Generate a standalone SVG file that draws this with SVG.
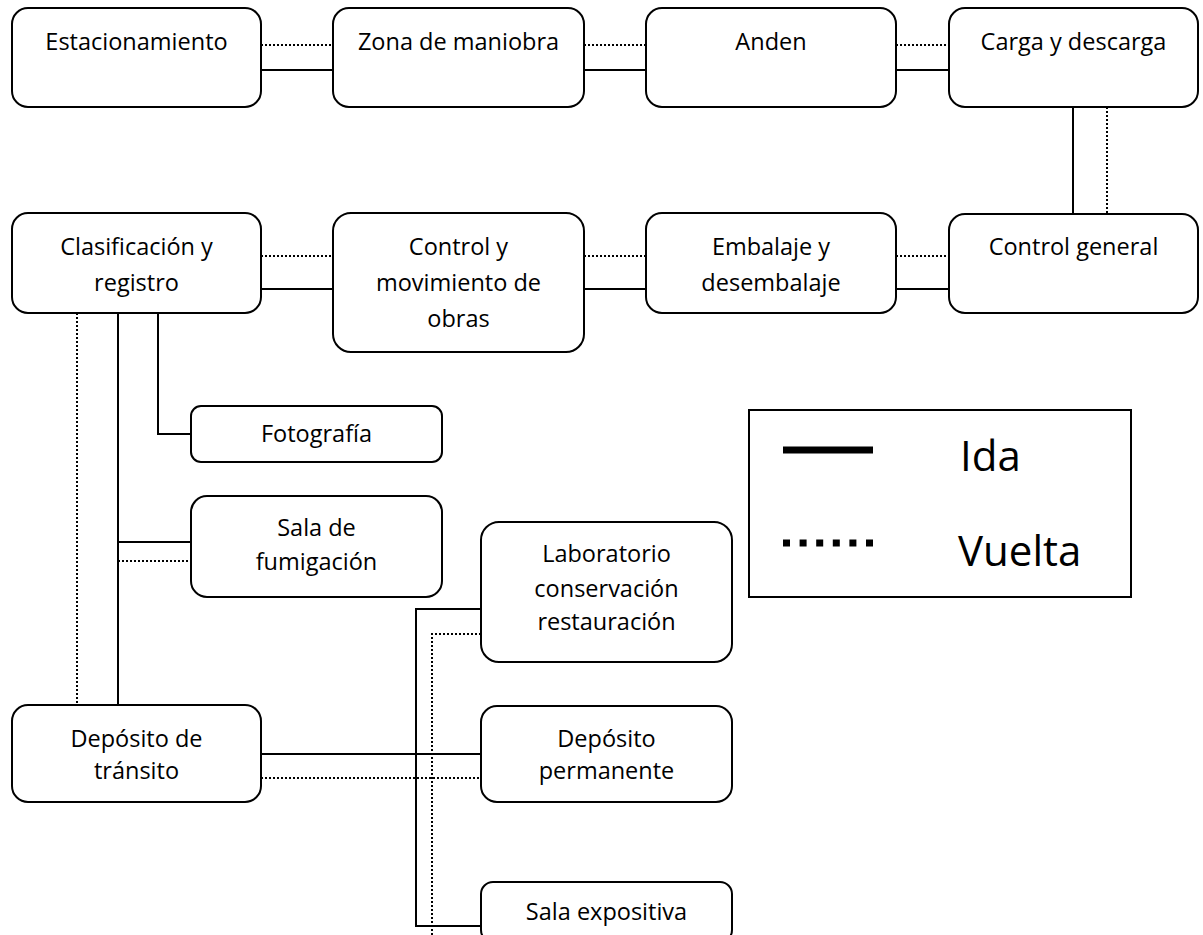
<svg xmlns="http://www.w3.org/2000/svg" width="1203" height="935" viewBox="0 0 1203 935">
<style>
.box{fill:#fff;stroke:#000;stroke-width:2}
.t{font-family:"Open Sans","Noto Sans",sans-serif;font-size:23.5px;fill:#000;text-anchor:middle}
.lg{font-family:"Open Sans","Noto Sans",sans-serif;font-size:42px;fill:#000}
.s{stroke:#000;stroke-width:2;fill:none}
.d{stroke:#000;stroke-width:2;fill:none;stroke-dasharray:2 2}
</style>
<rect width="1203" height="935" fill="#fff"/>
<g id="connectors">
<line class="d" x1="261" y1="45" x2="333" y2="45"/>
<line class="s" x1="261" y1="70" x2="333" y2="70"/>
<line class="d" x1="584" y1="45" x2="646" y2="45"/>
<line class="s" x1="584" y1="70" x2="646" y2="70"/>
<line class="d" x1="896" y1="45" x2="949" y2="45"/>
<line class="s" x1="896" y1="70" x2="949" y2="70"/>
<line class="s" x1="1073" y1="107" x2="1073" y2="214"/>
<line class="d" x1="1107" y1="107" x2="1107" y2="214"/>
<line class="d" x1="261" y1="256" x2="333" y2="256"/>
<line class="s" x1="261" y1="289" x2="333" y2="289"/>
<line class="d" x1="584" y1="256" x2="646" y2="256"/>
<line class="s" x1="584" y1="289" x2="646" y2="289"/>
<line class="d" x1="896" y1="256" x2="949" y2="256"/>
<line class="s" x1="896" y1="289" x2="949" y2="289"/>
<line class="d" x1="77" y1="313" x2="77" y2="705"/>
<line class="s" x1="118" y1="313" x2="118" y2="705"/>
<polyline class="s" points="158,313 158,434 191,434"/>
<line class="s" x1="118" y1="542" x2="191" y2="542"/>
<line class="d" x1="118" y1="561" x2="191" y2="561"/>
<line class="s" x1="261" y1="754" x2="481" y2="754"/>
<line class="d" x1="261" y1="778" x2="481" y2="778"/>
<polyline class="s" points="481,609 416,609 416,926 481,926"/>
<polyline class="d" points="481,634 432,634 432,935"/>
</g>
<g id="n-estacionamiento"><rect class="box" x="12" y="8" width="249" height="99" rx="16"/><text class="t" x="136.5" y="50">Estacionamiento</text></g>
<g id="n-zona"><rect class="box" x="333" y="8" width="251" height="99" rx="16"/><text class="t" x="458.5" y="50">Zona de maniobra</text></g>
<g id="n-anden"><rect class="box" x="646" y="8" width="250" height="99" rx="16"/><text class="t" x="771" y="50">Anden</text></g>
<g id="n-carga"><rect class="box" x="949" y="8" width="249" height="99" rx="16"/><text class="t" x="1073.5" y="50">Carga y descarga</text></g>
<g id="n-clasificacion"><rect class="box" x="12" y="213" width="249" height="100" rx="16"/><text class="t" x="136.5" y="255">Clasificación y</text><text class="t" x="136.5" y="291">registro</text></g>
<g id="n-control-mov"><rect class="box" x="333" y="213" width="251" height="139" rx="18"/><text class="t" x="458.5" y="255">Control y</text><text class="t" x="458.5" y="291">movimiento de</text><text class="t" x="458.5" y="327">obras</text></g>
<g id="n-embalaje"><rect class="box" x="646" y="213" width="250" height="100" rx="16"/><text class="t" x="771" y="255">Embalaje y</text><text class="t" x="771" y="291">desembalaje</text></g>
<g id="n-control-general"><rect class="box" x="949" y="214" width="249" height="99" rx="16"/><text class="t" x="1073.5" y="255">Control general</text></g>
<g id="n-fotografia"><rect class="box" x="191" y="406" width="251" height="56" rx="10"/><text class="t" x="316.5" y="442">Fotografía</text></g>
<g id="n-fumigacion"><rect class="box" x="191" y="496" width="251" height="101" rx="16"/><text class="t" x="316.5" y="536">Sala de</text><text class="t" x="316.5" y="570">fumigación</text></g>
<g id="n-laboratorio"><rect class="box" x="481" y="522" width="251" height="140" rx="18"/><text class="t" x="606.5" y="562">Laboratorio</text><text class="t" x="606.5" y="597">conservación</text><text class="t" x="606.5" y="630">restauración</text></g>
<g id="n-deposito-transito"><rect class="box" x="12" y="705" width="249" height="97" rx="16"/><text class="t" x="136.5" y="747">Depósito de</text><text class="t" x="136.5" y="779">tránsito</text></g>
<g id="n-deposito-permanente"><rect class="box" x="481" y="706" width="251" height="96" rx="16"/><text class="t" x="606.5" y="747">Depósito</text><text class="t" x="606.5" y="779">permanente</text></g>
<g id="n-sala-expositiva"><rect class="box" x="481" y="882" width="251" height="60" rx="12"/><text class="t" x="606.5" y="920">Sala expositiva</text></g>
<g id="legend">
<rect x="749" y="410" width="382" height="187" fill="#fff" stroke="#000" stroke-width="2"/>
<line x1="783" y1="450" x2="873" y2="450" stroke="#000" stroke-width="7"/>
<line x1="783" y1="543" x2="873" y2="543" stroke="#000" stroke-width="7" stroke-dasharray="7 9.6"/>
<text class="lg" x="960" y="471">Ida</text>
<text class="lg" x="958" y="566">Vuelta</text>
</g>
</svg>
